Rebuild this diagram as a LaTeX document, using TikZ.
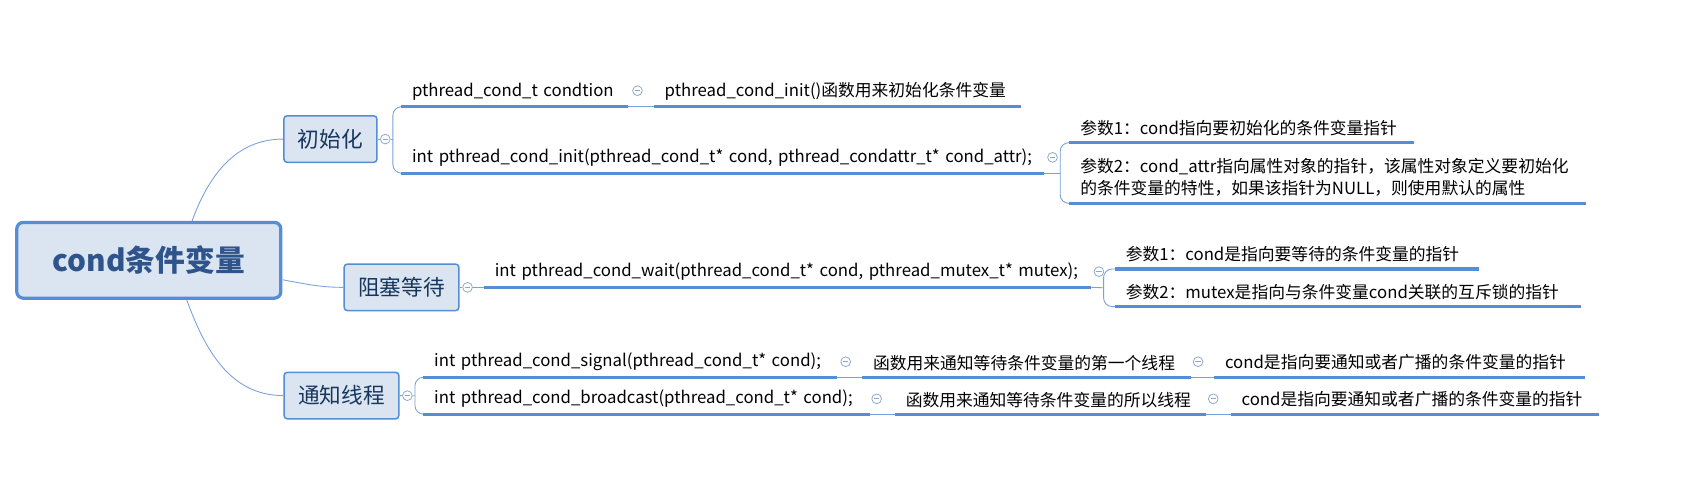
\documentclass[tikz,border=0pt]{standalone}
\usepackage{fontspec}
\setmainfont{Noto Sans CJK SC}
\usepackage{tikz}
\usepackage{xcolor}
\definecolor{ColEdge}{RGB}{85,142,213}
\definecolor{ColFill}{RGB}{219,229,241}
\definecolor{ColRoot}{RGB}{47,84,140}
\definecolor{ColTopic}{RGB}{23,54,93}
\definecolor{ColLink}{RGB}{120,160,218}
\definecolor{ColFold}{RGB}{140,165,205}
\tikzstyle{RootNode}=[rectangle,rounded corners=6pt,draw=ColEdge,line width=3pt,fill=ColFill,
minimum width=244pt,minimum height=70pt,text=ColRoot,font=\fontsize{27.5}{30}\selectfont\bfseries]
\tikzstyle{TopicNode}=[rectangle,rounded corners=3pt,draw=ColEdge,line width=1.4pt,fill=ColFill,
minimum height=43pt,text=ColTopic,font=\fontsize{20}{22}\selectfont]
\tikzstyle{LeafNode}=[anchor=south west,inner xsep=10pt,inner ysep=6pt,align=left,
font=\fontsize{15.5}{20.5}\selectfont]
\tikzstyle{UnderLine}=[ColEdge,line width=3pt]
\tikzstyle{EdgeLink}=[ColLink,line width=0.8pt]
\tikzstyle{BraceLink}=[EdgeLink,rounded corners=8pt]
\tikzstyle{FoldMark}=[circle,draw=ColFold,fill=white,line width=0.7pt,inner sep=0pt,minimum size=9pt,
path picture={\draw[ColFold,line width=0.7pt]([xshift=2pt]path picture bounding box.west)--([xshift=-2pt]path picture bounding box.east);}]

\begin{document}
\begin{tikzpicture}[x=1pt,y=-1pt]
        \useasboundingbox(0,0)rectangle(1568,456);
        \node[RootNode](root)at(137.5,240.5){cond条件变量};
        \node[TopicNode,minimum width=86pt](init)at(305.3,128.5){初始化};
        \node[TopicNode,minimum width=106pt](wait)at(371,265.5){阻塞等待};
        \node[TopicNode,minimum width=106pt](notify)at(315.5,365.5){通知线程};
        \draw[EdgeLink]([xshift=40pt]root.north)to[out=70,in=180](init.west);
        \draw[EdgeLink]([yshift=-18pt]root.east)to[out=-10,in=180](wait.west);
        \draw[EdgeLink]([xshift=35pt]root.south)to[out=-70,in=180](notify.west);
        % 初始化
        \node[FoldMark](fi)at(356,128.5){};
        \node[LeafNode,text width=189.5pt](c1)at(370.5,98.6){pthread\_cond\_t condtion};
        \node[LeafNode,text width=319pt](c1b)at(604,98.6){pthread\_cond\_init()函数用来初始化条件变量};
        \node[LeafNode,text width=573.5pt](c2)at(370.5,160){int pthread\_cond\_init(pthread\_cond\_t* cond, pthread\_condattr\_t* cond\_attr);};
        \node[LeafNode,text width=298.5pt](p1)at(988,131.8){参数1：cond指向要初始化的条件变量指针};
        \node[LeafNode,text width=457pt](p2)at(988,187.9){参数2：cond\_attr指向属性对象的指针，该属性对象定义要初始化\\的条件变量的特性，如果该指针为NULL，则使用默认的属性};
        \coordinate(bi)at(363,128.5);
        \coordinate(bp)at(979.6,160);
        \draw[EdgeLink](init.east)--(fi)--(bi);
        \draw[BraceLink](c1.south west)-|(bi)|-(c2.south west);
        \draw[EdgeLink](c1.south east)--(c1b.south west);
        \draw[EdgeLink](c2.south east)--(bp);
        \draw[BraceLink](p1.south west)-|(bp)|-(p2.south west);
        \draw[UnderLine](c1.south west)--(c1.south east);
        \draw[UnderLine](c1b.south west)--(c1b.south east);
        \draw[UnderLine](c2.south west)--(c2.south east);
        \draw[UnderLine](p1.south west)--(p1.south east);
        \draw[UnderLine](p2.south west)--(p2.south east);
        \node[FoldMark](fc1)at(589,83.8){};
        \node[FoldMark](fc2)at(972.5,145.4){};
        % 阻塞等待
        \node[FoldMark](fw)at(432,265.5){};
        \node[LeafNode,text width=541pt](w)at(447,265.5){int pthread\_cond\_wait(pthread\_cond\_t* cond, pthread\_mutex\_t* mutex);};
        \node[LeafNode,text width=316pt](q1)at(1030,248.5){参数1：cond是指向要等待的条件变量的指针};
        \node[LeafNode,text width=410pt](q2)at(1030,283.3){参数2：mutex是指向与条件变量cond关联的互斥锁的指针};
        \coordinate(bw)at(1019.7,265.9);
        \draw[EdgeLink](wait.east)--(fw)--(w.south west);
        \draw[EdgeLink](w.south east)--(bw);
        \draw[BraceLink](q1.south west)-|(bw)|-(q2.south west);
        \draw[UnderLine](w.south west)--(w.south east);
        \draw[UnderLine](q1.south west)--(q1.south east);
        \draw[UnderLine](q2.south west)--(q2.south east);
        \node[FoldMark](fw2)at(1015.4,251){};
        % 通知线程
        \node[FoldMark](fn)at(376.4,365.6){};
        \node[LeafNode,text width=362pt](s1)at(391,348.5){int pthread\_cond\_signal(pthread\_cond\_t* cond);};
        \node[LeafNode,text width=283.5pt](s1b)at(796.5,348.5){函数用来通知等待条件变量的第一个线程};
        \node[LeafNode,text width=322.6pt](s1c)at(1121.7,348.5){cond是指向要通知或者广播的条件变量的指针};
        \node[LeafNode,text width=392pt](s2)at(391,382.7){int pthread\_cond\_broadcast(pthread\_cond\_t* cond);};
        \node[LeafNode,text width=267.3pt](s2b)at(826.7,382.7){函数用来通知等待条件变量的所以线程};
        \node[LeafNode,text width=320pt](s2c)at(1137,382.7){cond是指向要通知或者广播的条件变量的指针};
        \coordinate(bn)at(383.4,365.6);
        \draw[EdgeLink](notify.east)--(fn)--(bn);
        \draw[BraceLink](s1.south west)-|(bn)|-(s2.south west);
        \draw[EdgeLink](s1.south east)--(s1b.south west);
        \draw[EdgeLink](s1b.south east)--(s1c.south west);
        \draw[EdgeLink](s2.south east)--(s2b.south west);
        \draw[EdgeLink](s2b.south east)--(s2c.south west);
        \draw[UnderLine](s1.south west)--(s1.south east);
        \draw[UnderLine](s1b.south west)--(s1b.south east);
        \draw[UnderLine](s1c.south west)--(s1c.south east);
        \draw[UnderLine](s2.south west)--(s2.south east);
        \draw[UnderLine](s2b.south west)--(s2b.south east);
        \draw[UnderLine](s2c.south west)--(s2c.south east);
        \node[FoldMark](fs1)at(781.4,334.2){};
        \node[FoldMark](fs1b)at(1107,334.2){};
        \node[FoldMark](fs2)at(810,368.5){};
        \node[FoldMark](fs2b)at(1121,368.5){};
    \end{tikzpicture}
\end{document}
